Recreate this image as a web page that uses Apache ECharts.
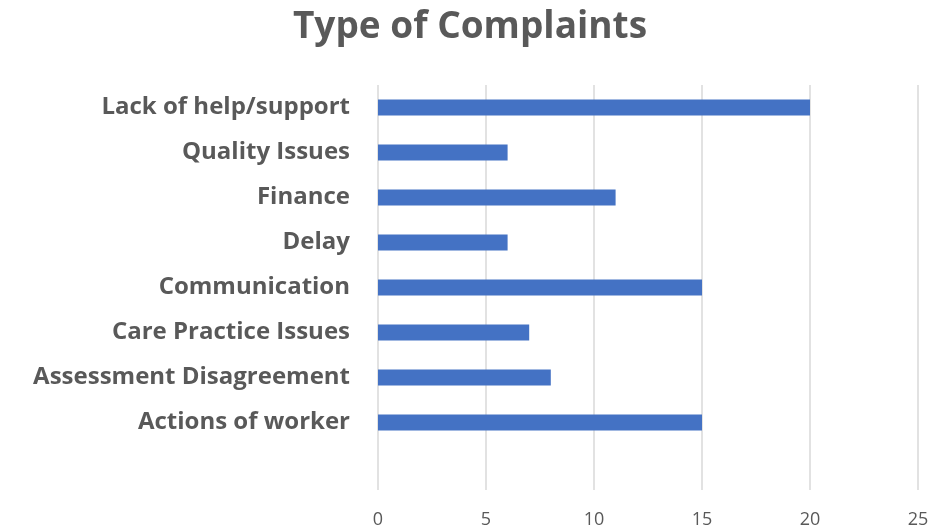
<!DOCTYPE html>
<html style="height: 100%">
<head>
    <meta charset="utf-8">
</head>
<body style="height: 100%; margin: 0">
    <div id="container" style="width: 940px; height: 532px"></div>
    <script src="https://cdn.jsdelivr.net/npm/echarts@6/dist/echarts.min.js"></script>
    <script type="text/javascript">
        // categories listed bottom to top (blank slot at the bottom like the original)
        var categories = ['', 'Actions of worker', 'Assessment Disagreement', 'Care Practice Issues',
            'Communication', 'Delay', 'Finance', 'Quality Issues', 'Lack of help/support'];
        var counts = [null, 15, 8, 7, 15, 6, 11, 6, 20];
        var xTicks = [0, 5, 10, 15, 20, 25];

        var dom = document.getElementById('container');
        var myChart = echarts.init(dom);

        var option = {
            animation: false,
            title: {
                text: 'Type of Complaints',
                left: 'center',
                top: 4,
                textStyle: {
                    fontFamily: 'Open Sans',
                    fontWeight: 'bold',
                    fontSize: 37,
                    color: '#595959'
                }
            },
            grid: {
                left: 378,
                right: 22,
                top: 85,
                bottom: 42
            },
            xAxis: {
                type: 'value',
                min: xTicks[0],
                max: xTicks[xTicks.length - 1],
                interval: 5,
                axisLine: { show: false },
                axisTick: { show: false },
                splitLine: { lineStyle: { color: '#d9d9d9', width: 1.5 } },
                axisLabel: {
                    margin: 21,
                    fontFamily: 'Open Sans',
                    fontSize: 18,
                    color: '#595959'
                }
            },
            yAxis: {
                type: 'category',
                data: categories,
                axisLine: { show: false },
                axisTick: { show: false },
                axisLabel: {
                    margin: 28,
                    fontFamily: 'Open Sans',
                    fontWeight: 'bold',
                    fontSize: 24,
                    color: '#595959'
                }
            },
            series: [{
                type: 'bar',
                data: counts,
                barWidth: 16,
                itemStyle: { color: '#4472c4' }
            }]
        };

        myChart.setOption(option);
    </script>
</body>
</html>
